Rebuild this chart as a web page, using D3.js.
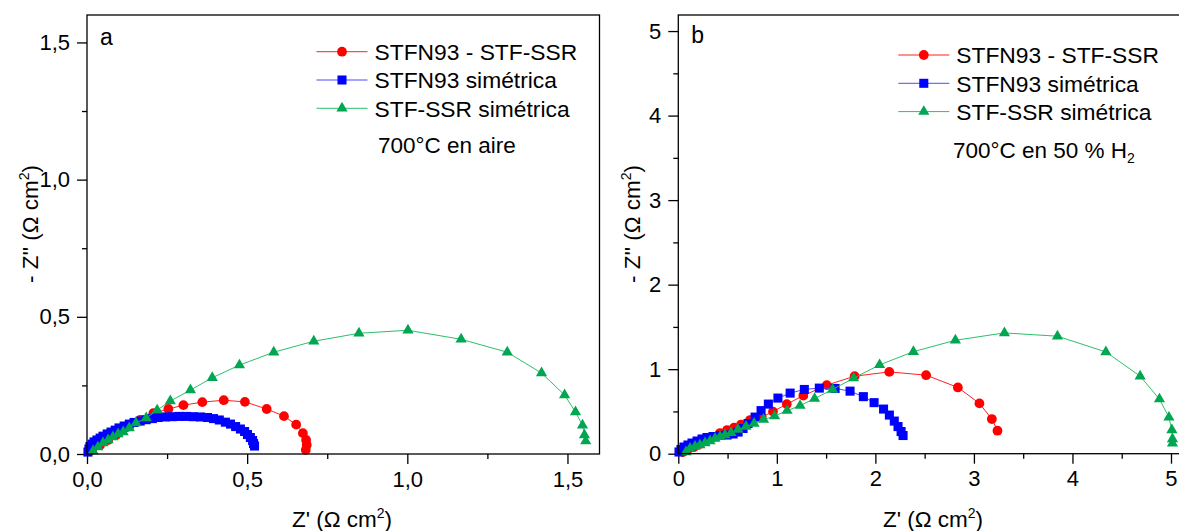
<!DOCTYPE html>
<html>
<head>
<meta charset="utf-8">
<script src="https://cdn.jsdelivr.net/npm/d3@7"></script>
<style>
    body { margin: 0; background: #ffffff; }
    svg { display: block; font-family: "Liberation Sans", Arial, sans-serif; }
</style>
</head>
<body>
<svg id="chart" width="1179" height="531"></svg>
<script>

// ---- data ---------------------------------------------------------------

const seriesNames = ["STFN93 - STF-SSR", "STFN93 simétrica", "STF-SSR simétrica"];

// panel a : 700°C in air, [Z', -Z''] in ohm cm2
const airMixed = [
    [0.016, 0.015], [0.041, 0.033], [0.066, 0.051], [0.091, 0.069], [0.106, 0.084],
    [0.125, 0.098], [0.166, 0.124], [0.207, 0.149], [0.254, 0.164], [0.301, 0.178],
    [0.360, 0.189], [0.427, 0.196], [0.493, 0.190], [0.561, 0.164], [0.615, 0.138],
    [0.653, 0.107], [0.674, 0.076], [0.684, 0.051], [0.686, 0.033], [0.683, 0.015]
];
const airStfn = [
    [0.003, 0.007], [0.006, 0.018], [0.009, 0.027], [0.016, 0.036], [0.022, 0.044],
    [0.031, 0.051], [0.041, 0.058], [0.050, 0.065], [0.063, 0.073], [0.075, 0.080],
    [0.088, 0.087], [0.100, 0.095], [0.116, 0.102], [0.132, 0.109], [0.147, 0.115],
    [0.166, 0.120], [0.185, 0.125], [0.204, 0.129], [0.222, 0.133], [0.244, 0.135],
    [0.266, 0.136], [0.288, 0.137], [0.310, 0.137], [0.332, 0.136], [0.354, 0.135],
    [0.376, 0.133], [0.395, 0.129], [0.413, 0.124], [0.432, 0.116], [0.448, 0.109],
    [0.464, 0.100], [0.479, 0.091], [0.492, 0.082], [0.501, 0.071], [0.510, 0.060],
    [0.517, 0.049], [0.520, 0.038], [0.523, 0.029]
];
const airStf = [
    [0.019, 0.011], [0.034, 0.025], [0.050, 0.040], [0.066, 0.051], [0.081, 0.062],
    [0.097, 0.073], [0.113, 0.080], [0.132, 0.095], [0.153, 0.113], [0.185, 0.131],
    [0.219, 0.160], [0.260, 0.193], [0.323, 0.233], [0.391, 0.278], [0.476, 0.324],
    [0.583, 0.371], [0.708, 0.411], [0.849, 0.440], [1.002, 0.451], [1.168, 0.418],
    [1.312, 0.371], [1.419, 0.295], [1.491, 0.215], [1.525, 0.153], [1.547, 0.105],
    [1.553, 0.069], [1.557, 0.047]
];

// panel b : 700°C in 50 % H2
const h2Mixed = [
    [0.048, 0.020], [0.098, 0.050], [0.159, 0.079], [0.220, 0.115], [0.281, 0.150],
    [0.353, 0.197], [0.424, 0.244], [0.495, 0.280], [0.566, 0.309], [0.637, 0.345],
    [0.728, 0.398], [0.847, 0.433], [0.961, 0.498], [1.101, 0.587], [1.269, 0.687],
    [1.507, 0.811], [1.789, 0.917], [2.141, 0.968], [2.515, 0.929], [2.837, 0.784],
    [3.056, 0.595], [3.182, 0.410], [3.239, 0.272]
];
const h2Stfn = [
    [0.007, 0.020], [0.027, 0.050], [0.058, 0.079], [0.098, 0.103], [0.139, 0.126],
    [0.190, 0.150], [0.241, 0.174], [0.291, 0.191], [0.352, 0.203], [0.424, 0.215],
    [0.495, 0.221], [0.556, 0.233], [0.607, 0.256], [0.657, 0.298], [0.708, 0.357],
    [0.779, 0.433], [0.840, 0.510], [0.914, 0.587], [1.011, 0.658], [1.135, 0.717],
    [1.279, 0.760], [1.431, 0.776], [1.591, 0.772], [1.743, 0.740], [1.878, 0.675],
    [1.987, 0.604], [2.083, 0.528], [2.142, 0.457], [2.192, 0.386], [2.230, 0.321],
    [2.261, 0.262], [2.281, 0.215]
];
const h2Stf = [
    [0.078, 0.020], [0.119, 0.061], [0.170, 0.085], [0.220, 0.103], [0.271, 0.126],
    [0.322, 0.150], [0.373, 0.179], [0.424, 0.201], [0.474, 0.221], [0.535, 0.248],
    [0.606, 0.286], [0.687, 0.321], [0.769, 0.357], [0.865, 0.404], [0.977, 0.445],
    [1.104, 0.510], [1.236, 0.569], [1.383, 0.652], [1.566, 0.760], [1.779, 0.894],
    [2.043, 1.051], [2.386, 1.207], [2.812, 1.342], [3.310, 1.429], [3.848, 1.390],
    [4.339, 1.204], [4.687, 0.917], [4.883, 0.646], [4.979, 0.430], [5.009, 0.280],
    [5.015, 0.174], [5.015, 0.123]
];

// tick values
const airTicks = [0, 0.5, 1.0, 1.5];
const airMinor = [0.25, 0.75, 1.25];
const h2Ticks = [0, 1, 2, 3, 4, 5];
const h2Minor = [0.5, 1.5, 2.5, 3.5, 4.5];

// ---- styling ----------------------------------------------------------------

const markerColors = ["#ff0000", "#0000ff", "#00a651"];
const lineColors = ["#ff2020", "#4a4aff", "#2cbf68"];
const markerShapes = [d3.symbolCircle, d3.symbolSquare, d3.symbolTriangle];
const markerSizes = [75, 82, 54];

const svg = d3.select("#chart");

/**
 * Draws one Nyquist panel (frame, axes, lines, markers) and returns the group.
 */
function drawPanel(opts) {
    let x = d3.scaleLinear().domain(opts.xDomain).range([0, opts.width]);
    let y = d3.scaleLinear().domain(opts.yDomain).range([opts.height, 0]);

    let g = svg.append("g")
        .attr("transform", `translate(${opts.left},${opts.top})`);

    // major + minor ticks, outside
    g.append("g")
        .attr("class", "axis")
        .attr("transform", `translate(0,${opts.height})`)
        .call(d3.axisBottom(x).tickValues(opts.ticks).tickSize(10).tickPadding(7).tickFormat(opts.format));
    g.append("g")
        .attr("class", "axis")
        .attr("transform", `translate(0,${opts.height})`)
        .call(d3.axisBottom(x).tickValues(opts.minor).tickSize(5).tickFormat(""));
    g.append("g")
        .attr("class", "axis")
        .call(d3.axisLeft(y).tickValues(opts.yTicks).tickSize(10).tickPadding(7).tickFormat(opts.format));
    g.append("g")
        .attr("class", "axis")
        .call(d3.axisLeft(y).tickValues(opts.yMinor).tickSize(5).tickFormat(""));

    g.selectAll(".axis .domain").remove();
    g.selectAll(".axis line").attr("stroke", "#000").attr("stroke-width", 1.3);
    g.selectAll(".axis text")
        .attr("fill", "#000")
        .style("font-size", "22px")
        .style("font-family", "'Liberation Sans', Arial, sans-serif");

    // data
    let line = d3.line().x(d => x(d[0])).y(d => y(d[1]));
    opts.series.forEach((data, i) => {
        g.append("path")
            .datum(data)
            .attr("fill", "none")
            .attr("stroke", lineColors[i])
            .attr("stroke-width", 1)
            .attr("d", line);

        g.append("g")
            .selectAll("path")
            .data(data)
            .join("path")
            .attr("transform", d => `translate(${x(d[0])},${y(d[1])})`)
            .attr("d", d3.symbol().type(markerShapes[i]).size(markerSizes[i]))
            .attr("fill", markerColors[i]);
    });

    // frame
    g.append("rect")
        .attr("width", opts.width)
        .attr("height", opts.height)
        .attr("fill", "none")
        .attr("stroke", "#000")
        .attr("stroke-width", 1.3);

    // panel letter
    g.append("text")
        .attr("x", opts.labelX)
        .attr("y", opts.labelY)
        .style("font-size", "23px")
        .text(opts.label);

    return g;
}

/**
 * Legend with line + marker samples and the temperature note underneath.
 */
function drawLegend(x0, y0, rowGap, note, noteX, noteY, sub) {
    let g = svg.append("g");
    seriesNames.forEach((name, i) => {
        let yy = y0 + i * rowGap;
        g.append("line")
            .attr("x1", x0).attr("x2", x0 + 51)
            .attr("y1", yy).attr("y2", yy)
            .attr("stroke", lineColors[i])
            .attr("stroke-width", 1);
        g.append("path")
            .attr("transform", `translate(${x0 + 25.5},${yy})`)
            .attr("d", d3.symbol().type(markerShapes[i]).size(markerSizes[i]))
            .attr("fill", markerColors[i]);
        g.append("text")
            .attr("x", x0 + 58)
            .attr("y", yy)
            .attr("dy", "0.36em")
            .style("font-size", "22.8px")
            .text(name);
    });

    let t = g.append("text")
        .attr("x", noteX)
        .attr("y", noteY)
        .style("font-size", "22.5px")
        .text(note);
    if (sub) {
        t.append("tspan").attr("dy", 5).style("font-size", "14px").text(sub);
    }
}

/**
 * Axis title with a superscript 2, e.g. Z' (Ω cm²).
 */
function axisTitle(text, x, y, rotate) {
    let t = svg.append("text")
        .attr("transform", `translate(${x},${y})` + (rotate ? " rotate(-90)" : ""))
        .attr("text-anchor", "middle")
        .style("font-size", "22.5px");
    t.append("tspan").text(text + " (\u03A9 cm");
    t.append("tspan").attr("dy", -9).style("font-size", "14px").text("2");
    t.append("tspan").attr("dy", 9).text(")");
}

const commaFmt = d => d3.format(".1f")(d).replace(".", ",");

drawPanel({
    left: 87, top: 15, width: 512.5, height: 439,
    xDomain: [0, 1.6], yDomain: [0, 1.6],
    ticks: airTicks, minor: airMinor, yTicks: airTicks, yMinor: airMinor,
    format: commaFmt,
    series: [airMixed, airStfn, airStf],
    label: "a", labelX: 13, labelY: 30
});

drawPanel({
    left: 678.3, top: 15, width: 512.4, height: 438.7,
    xDomain: [0, 5.2], yDomain: [0, 5.19],
    ticks: h2Ticks, minor: h2Minor, yTicks: h2Ticks, yMinor: h2Minor,
    format: d3.format("d"),
    series: [h2Mixed, h2Stfn, h2Stf],
    label: "b", labelX: 13, labelY: 28
});

drawLegend(316.5, 51.7, 28.3, "700°C en aire", 378, 153);
drawLegend(898.3, 55, 28.3, "700°C en 50 % H", 953, 158, "2");

axisTitle("- Z''", 38, 224, true);
axisTitle("- Z''", 640, 224, true);
axisTitle("Z'", 342, 527, false);
axisTitle("Z'", 933, 527, false);

</script>
</body>
</html>
